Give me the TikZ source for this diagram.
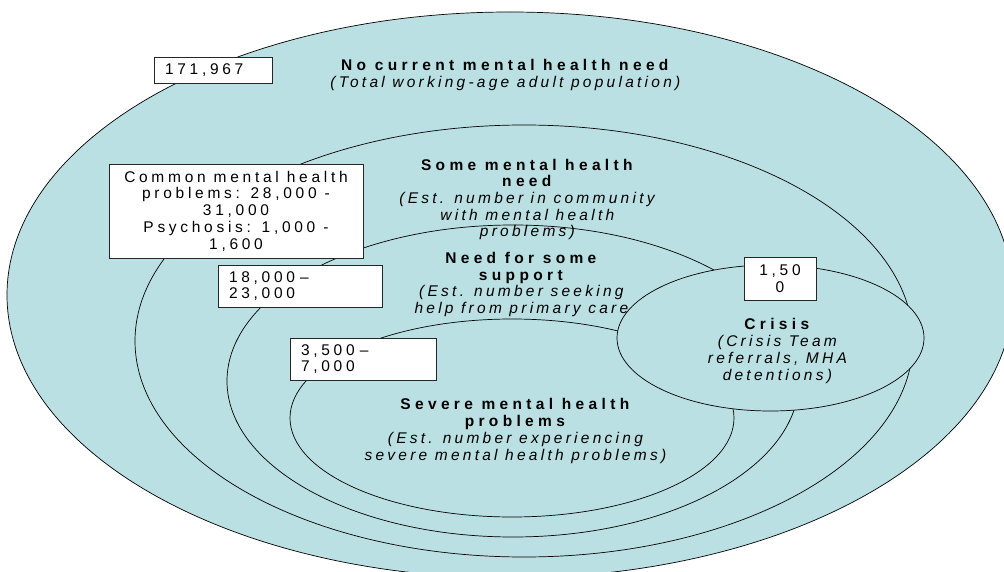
\documentclass[tikz,border=0pt]{standalone}
\usepackage{fontspec}
\setmainfont{Liberation Sans}[LetterSpace=24,BoldFeatures={LetterSpace=28},ItalicFeatures={LetterSpace=21}]
\usepackage{tikz}
\definecolor{popfill}{RGB}{186,224,227}

\begin{document}
\begin{tikzpicture}[x=1pt,y=-1pt,
  region/.style={draw=black,fill=popfill,line width=0.7pt},
  lbl/.style={inner sep=0,align=center,font=\fontsize{15.5}{16.7}\selectfont},
  countbox/.style={draw=black!85,fill=white,line width=0.8pt,inner ysep=0,inner xsep=11pt,font=\fontsize{15.5}{16.7}\selectfont}]
\useasboundingbox (0,0) rectangle (1004,572);
\clip (0,0) rectangle (1004,572);
\draw[region] (510,295) ellipse [x radius=503, y radius=283];
\draw[region] (524,341) ellipse [x radius=389, y radius=216];
\draw[region] (513,381) ellipse [x radius=286, y radius=156];
\draw[region] (512,418) ellipse [x radius=222, y radius=99];
\node[lbl] (nocur) at (507,75) {\textbf{No current mental health need}\\\textit{(Total working-age adult population)}};
\node[lbl] (some) at (529,199.5) {\textbf{Some mental health}\\\textbf{need}\\\textit{(Est. number in community}\\\textit{with mental health}\\\textit{problems)}};
\node[lbl] (support) at (523,284.5) {\textbf{Need for some}\\\textbf{support}\\\textit{(Est. number seeking}\\\textit{help from primary care}};
\node[lbl] (severe) at (517,431) {\textbf{Severe mental health}\\\textbf{problems}\\\textit{(Est. number experiencing}\\\textit{severe mental health problems)}};
\draw[region] (770.5,338) ellipse [x radius=153.5, y radius=73];
\node[lbl] (crisis) at (779,351) {\textbf{Crisis}\\\textit{(Crisis Team}\\\textit{referrals, MHA}\\\textit{detentions)}};
\node[countbox,text width=96pt,minimum height=26pt,align=left] (total) at (213,70) {171,967};
\node[countbox,inner xsep=0,minimum width=254pt,minimum height=94pt,align=center] (common) at (236,211) {Common mental health\\problems: 28,000 -\\31,000\\Psychosis: 1,000 -\\1,600};
\node[countbox,text width=142pt,minimum height=42pt,align=left] (primary) at (300,286) {18,000 –\\23,000};
\node[countbox,text width=124pt,minimum height=42pt,align=left] (smi) at (363,359) {3,500 –\\7,000};
\node[countbox,inner xsep=0,minimum width=72pt,minimum height=43pt,align=center] (crisisn) at (780,278.5) {1,50\\0};
\end{tikzpicture}
\end{document}
